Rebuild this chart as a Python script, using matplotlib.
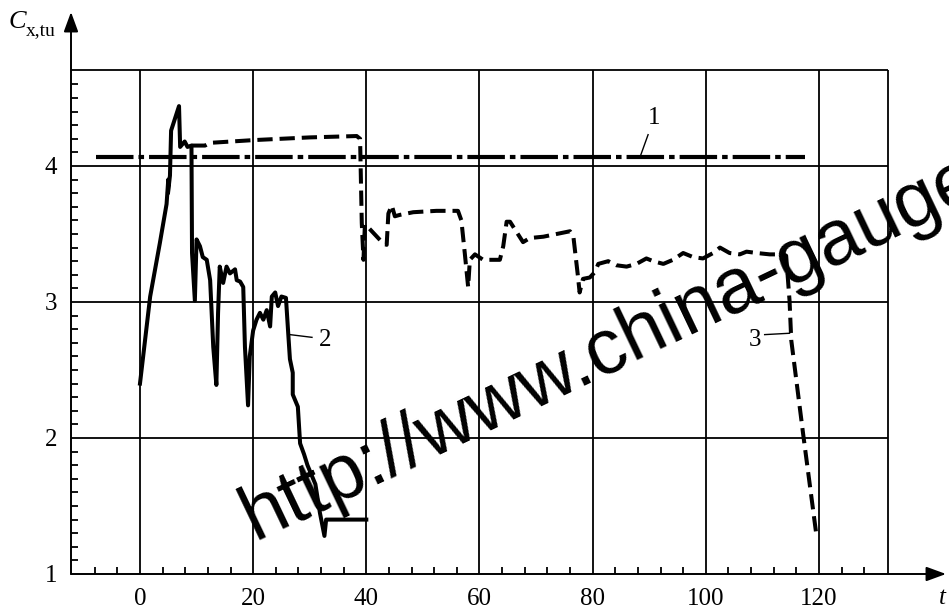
import numpy as np
import matplotlib
matplotlib.use("Agg")
import matplotlib.pyplot as plt

plt.rcParams['font.family'] = ['Liberation Serif', 'DejaVu Serif']
plt.rcParams['lines.scale_dashes'] = False

# curve 1 (dash-dot, constant)
t1 = [-7.8, 117.5]
c1 = [4.066, 4.066]

# curve 2 (solid)
t2 = [0.0, 1.8, 3.5, 4.7, 5.0, 4.95, 5.3, 5.5, 6.9, 7.1, 7.9, 8.4, 9.1, 9.2,
      9.7, 10.0, 10.6, 11.1, 11.8, 12.4, 12.95, 13.5, 13.8, 14.1, 14.7, 15.3,
      15.9, 16.8, 17.1, 17.7, 18.25, 18.55, 19.1, 19.4, 20.0, 20.6, 21.2, 21.8,
      22.4, 23.0, 23.3, 23.9, 24.4, 25.0, 25.8, 26.2, 26.5, 27.0, 27.0, 27.9,
      28.3, 29.0, 29.6, 31.0, 31.8, 32.6, 32.9, 40.0]
c2 = [2.40, 3.04, 3.43, 3.72, 3.90, 3.80, 3.93, 4.26, 4.44, 4.14, 4.18, 4.14, 4.15, 3.36,
      3.01, 3.46, 3.41, 3.33, 3.31, 3.16, 2.67, 2.39, 2.92, 3.26, 3.14, 3.26,
      3.21, 3.24, 3.16, 3.15, 3.11, 2.67, 2.24, 2.60, 2.79, 2.87, 2.92, 2.87,
      2.94, 2.82, 3.04, 3.07, 2.97, 3.04, 3.03, 2.77, 2.58, 2.48, 2.32, 2.23,
      1.96, 1.88, 1.80, 1.66, 1.45, 1.28, 1.40, 1.40]

# curve 3 (dashed)
t3 = [9.1, 10.0, 11.5, 12.4, 20.0, 30.0, 38.3, 38.9, 39.2, 39.5, 39.75, 40.3,
      43.0, 43.6, 43.9, 44.5, 45.05, 45.9, 48.3, 52.4, 56.2, 56.8, 57.4, 58.0,
      58.3, 59.2, 60.65, 63.6, 64.2, 64.8, 65.4, 67.7, 68.9, 71.3, 76.0, 76.6,
      77.4, 77.7, 78.3, 79.5, 80.4, 81.0, 82.75, 84.2, 86.0, 87.75, 89.5, 90.7,
      92.5, 94.2, 96.0, 97.75, 99.5, 101.3, 102.5, 104.2, 106.0, 107.2, 109.0,
      111.3, 113.7, 114.2, 114.8, 115.1, 117.2, 119.5]
c3 = [4.15, 4.15, 4.15, 4.17, 4.19, 4.21, 4.22, 4.20, 3.58, 3.31, 3.57, 3.55,
      3.43, 3.42, 3.65, 3.71, 3.63, 3.64, 3.66, 3.67, 3.67, 3.60, 3.36, 3.11,
      3.31, 3.35, 3.31, 3.31, 3.41, 3.59, 3.59, 3.44, 3.47, 3.48, 3.52, 3.48,
      3.19, 3.07, 3.17, 3.18, 3.22, 3.28, 3.30, 3.27, 3.26, 3.28, 3.32, 3.30,
      3.28, 3.31, 3.36, 3.33, 3.32, 3.36, 3.40, 3.36, 3.35, 3.37, 3.36, 3.35,
      3.35, 3.34, 3.01, 2.72, 2.03, 1.30]

xticks = [0, 20, 40, 60, 80, 100, 120]
yticks = [1, 2, 3, 4]

xmin, xmax = -12.19, 142.45
ymin, ymax = 1.0, 5.132
xbox, ybox = 132.2, 4.706

fig = plt.figure(figsize=(9.49, 6.12), dpi=100)
ax = fig.add_axes([71/949, 38/612, 875/949, 562/612])
ax.set_xlim(xmin, xmax)
ax.set_ylim(ymin, ymax)
for s in ax.spines.values():
    s.set_visible(False)

# grid and box
lw_g = 1.3
ax.vlines(xticks, ymin, ybox, color='black', lw=lw_g)
ax.vlines([xbox], ymin, ybox, color='black', lw=lw_g)
ax.hlines([2, 3, 4, ybox], xmin, xbox, color='black', lw=lw_g)

# axes with arrows
arr = dict(arrowstyle='-|>,head_length=0.6,head_width=0.22', color='black',
           lw=1.4, shrinkA=0, shrinkB=0, mutation_scale=20)
ax.annotate('', xy=(xmax, ymin), xytext=(xmin, ymin), arrowprops=arr,
            annotation_clip=False)
ax.annotate('', xy=(xmin, ymax), xytext=(xmin, ymin), arrowprops=arr,
            annotation_clip=False)

ax.set_xticks(xticks)
ax.set_yticks(yticks)
ax.set_xticks(np.arange(-8, 129, 4), minor=True)
ax.set_yticks(np.arange(1.1, 4.65, 0.1), minor=True)
ax.tick_params(which='major', length=0, pad=10, labelsize=18)
ax.tick_params(which='minor', direction='in', length=5, width=1.3)

# curves
ax.plot(t1, c1, color='black', lw=3.0, dashes=(27, 3.6, 4, 3.6),
        solid_capstyle='butt', dash_capstyle='butt')
ax.plot(t2, c2, color='black', lw=2.9, solid_joinstyle='round')
ax.plot(t3, c3, color='black', lw=2.9, dashes=(11, 5), dash_capstyle='butt')

# curve labels
ax.plot([88.5, 89.8], [4.08, 4.23], color='black', lw=1.0)
ax.text(90.8, 4.35, '1', fontsize=18, ha='center', va='center')
ax.plot([26.5, 30.4], [2.76, 2.74], color='black', lw=1.0)
ax.text(32.7, 2.72, '2', fontsize=18, ha='center', va='center')
ax.plot([110.4, 114.8], [2.76, 2.77], color='black', lw=1.0)
ax.text(108.7, 2.72, '3', fontsize=18, ha='center', va='center')

# axis labels
fig.text(9/949, 1 - 28/612, 'C', fontsize=19, style='italic',
         ha='left', va='baseline')
fig.text(26/949, 1 - 35/612, 'x,tu', fontsize=14,
         ha='left', va='baseline')
fig.text(942/949, 1 - 598/612, 't', fontsize=18, style='italic',
         ha='center', va='center')

# watermark
fig.text(255/949, 1 - 541/612, 'http://www.china-gauge', fontsize=56,
         family='Liberation Sans', rotation=25.5, rotation_mode='anchor',
         ha='left', va='baseline', color='black')

fig.savefig('out.png', dpi=100)
